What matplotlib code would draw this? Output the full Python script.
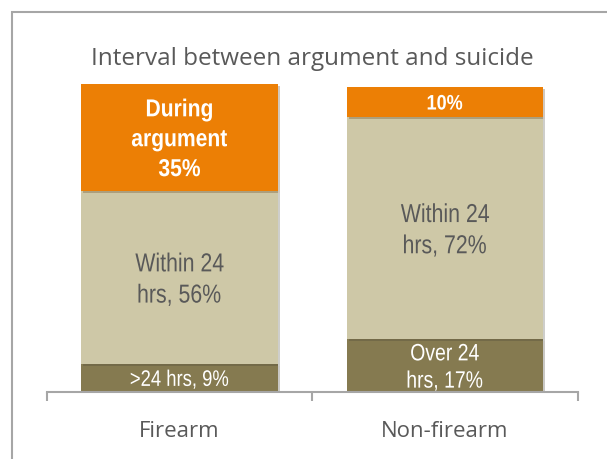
import matplotlib.pyplot as plt
import matplotlib.patheffects as pe
from matplotlib.patches import Rectangle, PathPatch
from matplotlib.textpath import TextPath
from matplotlib.font_manager import FontProperties
from matplotlib.transforms import Affine2D

categories = ["Firearm", "Non-firearm"]
over_24 = [9, 17]
within_24 = [56, 72]
during = [35, 10]

over_labels = [">24 hrs, 9%", "Over 24\nhrs, 17%"]
within_labels = ["Within 24\nhrs, 56%", "Within 24\nhrs, 72%"]
during_labels = ["During\nargument\n35%", "10%"]

c_orange = "#EC7F05"
c_beige = "#CEC8A7"
c_olive = "#857A50"
c_grey = "#595959"
c_line = "#A6A6A6"

body = ["Open Sans", "DejaVu Sans"]


def narrow_text(ax, x, y, s, size_px, color, bold=False, squeeze=0.82, ls=1.15):
    # no condensed font installed, so squeeze Liberation Sans glyph paths
    prop = FontProperties(family="Liberation Sans",
                          weight="bold" if bold else "normal")
    cap = 0.716 * size_px
    lines = s.split("\n")
    step = ls * size_px
    cx, cy = ax.transData.transform((x, y))
    mid = (cap - (len(lines) - 1) * step) / 2
    for k, line in enumerate(lines):
        tp = TextPath((0, 0), line, size=size_px, prop=prop)
        ext = tp.get_extents()
        w = ext.x0 + ext.x1
        tr = (Affine2D().translate(-w / 2, -k * step - mid)
              .scale(squeeze, 1).translate(cx, cy))
        ax.add_patch(PathPatch(tr.transform_path(tp), facecolor=color,
                               edgecolor="none", transform=None, zorder=3))


fig = plt.figure(figsize=(6.07, 4.59), dpi=100)
# outer frame (runs off the right and bottom edges)
fig.patches.append(Rectangle((12 / 607, -0.05), 1.0, 1 - 12 / 459 + 0.05,
                             transform=fig.transFigure, fill=False,
                             edgecolor=c_line, linewidth=1.5))

ax = fig.add_axes([46.7 / 607, 1 - 391.7 / 459, 531 / 607, 308.2 / 459])
x = range(len(categories))
width = 0.74
shadow = [pe.SimplePatchShadow(offset=(1.5, -1.5), alpha=0.25), pe.Normal()]

ax.bar(x, over_24, width, color=c_olive, path_effects=shadow, zorder=2)
bottom2 = over_24
ax.bar(x, within_24, width, bottom=bottom2, color=c_beige,
       path_effects=shadow, zorder=2)
bottom3 = [a + b for a, b in zip(over_24, within_24)]
ax.bar(x, during, width, bottom=bottom3, color=c_orange,
       path_effects=shadow, zorder=2)

ax.set_xlim(-0.5, 1.5)
ax.set_ylim(0, 100)
ax.set_yticks([])
for s in ["top", "right", "left"]:
    ax.spines[s].set_visible(False)
ax.spines["bottom"].set_color(c_line)
ax.spines["bottom"].set_linewidth(1.5)

ax.set_xticks(list(x))
ax.set_xticklabels(categories, fontsize=16, color=c_grey, family=body)
ax.tick_params(axis="x", which="major", length=0, pad=21)
ax.set_xticks([-0.5, 0.5, 1.5], minor=True)
ax.tick_params(axis="x", which="minor", length=6.5, width=1.5,
               color=c_line, direction="out")

over_sizes = [22.5, 23.7]
during_sizes = [24.5, 21]
for i in x:
    narrow_text(ax, i, over_24[i] / 2, over_labels[i], over_sizes[i], "white")
    narrow_text(ax, i, bottom2[i] + within_24[i] / 2, within_labels[i], 26,
                c_grey, ls=1.2)
    narrow_text(ax, i, bottom3[i] + during[i] / 2, during_labels[i],
                during_sizes[i], "white", bold=True, squeeze=0.86, ls=1.22)

fig.text(312 / 607, 1 - 59 / 459, "Interval between argument and suicide",
         ha="center", va="center", fontsize=17.5, color=c_grey, family=body)

fig.savefig("out.png", dpi=100)
